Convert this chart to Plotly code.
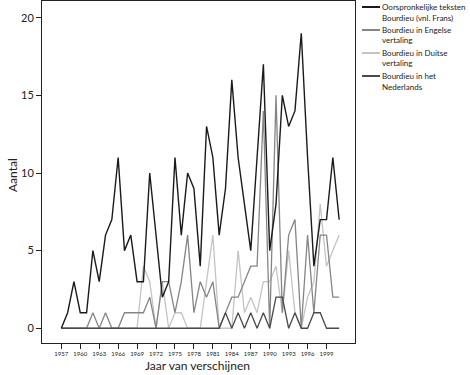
import plotly.graph_objects as go

years = list(range(1957, 2002))
oorspronkelijk = [0, 1, 3, 1, 1, 5, 3, 6, 7, 11,
                  5, 6, 3, 3, 10, 6, 2, 3, 11, 6,
                  10, 9, 4, 13, 11, 6, 9, 16, 11, 8,
                  5, 11, 17, 5, 8, 15, 13, 14, 19, 11,
                  4, 7, 7, 11, 7]
engels = [0, 0, 0, 0, 0, 1, 0, 1, 0, 0,
          1, 1, 1, 1, 2, 0, 3, 3, 1, 3,
          6, 1, 3, 2, 3, 0, 1, 2, 2, 3,
          4, 4, 14, 0, 15, 1, 6, 7, 0, 6,
          1, 6, 6, 2, 2]
duits = [0, 0, 0, 0, 0, 0, 0, 0, 0, 0,
         0, 0, 0, 4, 3, 0, 3, 0, 1, 1,
         0, 0, 0, 3, 6, 0, 0, 0, 5, 1,
         2, 1, 3, 3, 4, 1, 5, 1, 0, 2,
         3, 8, 4, 5, 6]
nederlands = [0] * 26 + [1, 0, 1, 0, 1, 0, 1, 0, 2, 2,
                         0, 1, 0, 0, 1, 1, 0, 0, 0]
xticks = list(range(1957, 2000, 3))
yticks = [0, 5, 10, 15, 20]

names = ["Oorspronkelijke teksten<br>Bourdieu (vnl. Frans)",
         "Bourdieu in Engelse<br>vertaling",
         "Bourdieu in Duitse<br>vertaling",
         "Bourdieu in het<br>Nederlands"]
colors = ["#1a1a1a", "#858585", "#c4c4c4", "#4a4a4a"]
series = [oorspronkelijk, engels, duits, nederlands]
widths = [1.4, 1.3, 1.3, 1.3]

fig = go.Figure()
for i in [2, 1, 3, 0]:
    fig.add_trace(go.Scatter(x=years, y=series[i], mode="lines", name=names[i],
                             line=dict(color=colors[i], width=widths[i])))

L, R, T, B = 42, 115, 1, 32
W, H = 470, 375
pw, ph = W - L - R, H - T - B

def px(x):
    return (x - L) / pw

def py(y):
    return (H - B - y) / ph

legend_rows = [(7, 17.5), (30, 40.5), (53, 63.5), (76, 86.5)]
for i, (y1, y2) in enumerate(legend_rows):
    fig.add_shape(type="line", xref="paper", yref="paper",
                  x0=px(362), x1=px(380), y0=py(y1), y1=py(y1),
                  line=dict(color=colors[i], width=2))
    parts = names[i].split("<br>")
    for txt, yy in zip(parts, (y1, y2)):
        fig.add_annotation(text=txt, xref="paper", yref="paper",
                           x=px(381), y=py(yy), xanchor="left", yanchor="middle",
                           showarrow=False, borderpad=0,
                           font=dict(size=8, color="#222", family="Lato"))

# axis titles
fig.add_annotation(text="Jaar van verschijnen", xref="paper", yref="paper",
                   x=px(197), y=py(366), xanchor="center", yanchor="middle",
                   showarrow=False, borderpad=0, font=dict(size=12, color="#222"))
fig.add_annotation(text="Aantal", xref="paper", yref="paper", textangle=-90,
                   x=px(12), y=py(175), xanchor="center", yanchor="middle",
                   showarrow=False, borderpad=0, font=dict(size=12, color="#222"))

fig.update_layout(
    width=W, height=H,
    margin=dict(l=L, r=R, t=T, b=B),
    paper_bgcolor="white", plot_bgcolor="white",
    showlegend=False,
    font=dict(family="Lato", color="#222"),
)
fig.update_xaxes(range=[1953.94, 2003.51], tickvals=xticks, ticks="outside",
                 ticklen=5, tickcolor="#222", tickfont=dict(size=6),
                 showline=True, mirror=True, linecolor="#222", linewidth=1,
                 showgrid=False, zeroline=False, automargin=False)
fig.update_yaxes(range=[-0.95, 21.08], tickvals=yticks, ticks="outside",
                 ticklen=5, tickcolor="#222", tickfont=dict(size=11),
                 showline=True, mirror=True, linecolor="#222", linewidth=1,
                 showgrid=False, zeroline=False, automargin=False)

fig.write_html("out.html", config={"displayModeBar": False},
               post_script="document.body.style.margin='0px';")
